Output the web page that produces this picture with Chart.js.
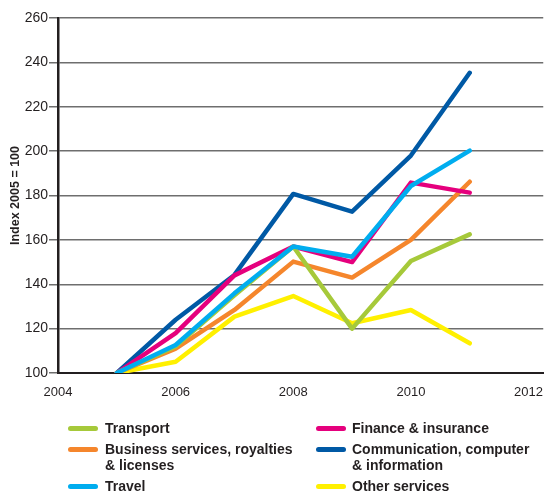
<!DOCTYPE html>
<html>
<head>
<meta charset="utf-8">
<script src="https://cdn.jsdelivr.net/npm/chart.js@4.4.1/dist/chart.umd.min.js"></script>
<style>
  html, body { margin: 0; padding: 0; background: #fff; }
  #wrap { position: relative; width: 547px; height: 494px; overflow: hidden; }
  #c { position: absolute; left: 0; top: 0; }
  .item { position: absolute; font-family: "Liberation Sans", Arial, Helvetica, sans-serif;
          font-weight: bold; font-size: 14px; line-height: 16px; color: #231f20; white-space: pre; }
  .sw { position: absolute; width: 30px; height: 5px; border-radius: 3px; }
</style>
</head>
<body>
<div id="wrap">
  <canvas id="c" width="547" height="494"></canvas>
  <div id="legend"></div>
</div>
<script>
// ---- data ----
const years = [2005, 2006, 2007, 2008, 2009, 2010, 2011];
const transport     = [100, 112, 135, 157, 120, 150.5, 162.5];
const finance       = [100, 118, 144, 157, 150, 185.8, 181.3];
const business      = [100, 111, 128.4, 150.2, 143, 160, 186.2];
const communication = [100, 124, 144.2, 180.7, 172.7, 198, 235.3];
const travel        = [100, 112.6, 135.9, 157, 152.4, 184.3, 200.2];
const other         = [100, 105.1, 125.4, 134.7, 122.4, 128.4, 113.4];
const xTickLabels = [2004, 2006, 2008, 2010, 2012];
const yTickLabels = [100, 120, 140, 160, 180, 200, 220, 240, 260];

const names = {
  transport: "Transport",
  finance: "Finance & insurance",
  business: "Business services, royalties\n& licenses",
  communication: "Communication, computer\n& information",
  travel: "Travel",
  other: "Other services"
};
const colors = {
  transport: "#a6c93a",
  finance: "#e5007d",
  business: "#f5862c",
  communication: "#0059a5",
  travel: "#00adef",
  other: "#fff000"
};
const series = { transport, finance, business, communication, travel, other };

// drawing order: first = on top
const drawOrder = ["travel", "transport", "finance", "business", "communication", "other"];

const datasets = drawOrder.map(k => ({
  label: names[k].replace("\n", " "),
  data: years.map((y, i) => ({ x: y, y: series[k][i] })),
  borderColor: colors[k],
  backgroundColor: colors[k],
  borderWidth: 4.5,
  pointRadius: 0,
  borderCapStyle: "round",
  borderJoinStyle: "round",
  tension: 0,
  fill: false
}));

const FONT = "'Liberation Sans', Arial, Helvetica, sans-serif";

new Chart(document.getElementById("c"), {
  type: "line",
  data: { datasets },
  options: {
    responsive: false,
    animation: false,
    layout: { padding: { top: 18, right: 0, bottom: 96, left: 0 } },
    plugins: { legend: { display: false }, tooltip: { enabled: false } },
    scales: {
      x: {
        type: "linear",
        min: 2004,
        max: 2012.25,
        afterBuildTicks: s => { s.ticks = xTickLabels.map(v => ({ value: v })); },
        afterFit: s => { s.height = 25; },
        grid: { display: false },
        border: { display: true, color: "#231f20", width: 2 },
        ticks: { font: { family: FONT, size: 13 }, color: "#231f20", padding: 4,
                 maxRotation: 0, callback: v => String(v) }
      },
      y: {
        type: "linear",
        min: 100,
        max: 260,
        afterBuildTicks: s => { s.ticks = yTickLabels.map(v => ({ value: v })); },
        afterFit: s => { s.width = 58; },
        grid: { color: "#6e6e6e", lineWidth: 1.5, tickLength: 9, tickColor: "#6e6e6e" },
        border: { display: true, color: "#231f20", width: 2.5 },
        ticks: { font: { family: FONT, size: 14 }, color: "#231f20", padding: 1 },
        title: { display: true, text: "Index 2005 = 100", color: "#231f20",
                 font: { family: FONT, size: 12.5, weight: "bold" }, padding: { top: 8, bottom: 0 } }
      }
    }
  }
});

// ---- legend (HTML) ----
const legendCols = [["transport", "business", "travel"], ["finance", "communication", "other"]];
const colX = [{ sw: 68, tx: 105 }, { sw: 316, tx: 352 }];
const leg = document.getElementById("legend");
legendCols.forEach((col, ci) => {
  let top = 420;
  col.forEach(k => {
    const lines = names[k].split("\n").length;
    const sw = document.createElement("div");
    sw.className = "sw";
    sw.style.background = colors[k];
    sw.style.left = colX[ci].sw + "px";
    sw.style.top = (top + 6) + "px";
    leg.appendChild(sw);
    const t = document.createElement("div");
    t.className = "item";
    t.style.left = colX[ci].tx + "px";
    t.style.top = top + "px";
    t.textContent = names[k];
    leg.appendChild(t);
    top += lines * 16 + 5;
  });
});
</script>
</body>
</html>
